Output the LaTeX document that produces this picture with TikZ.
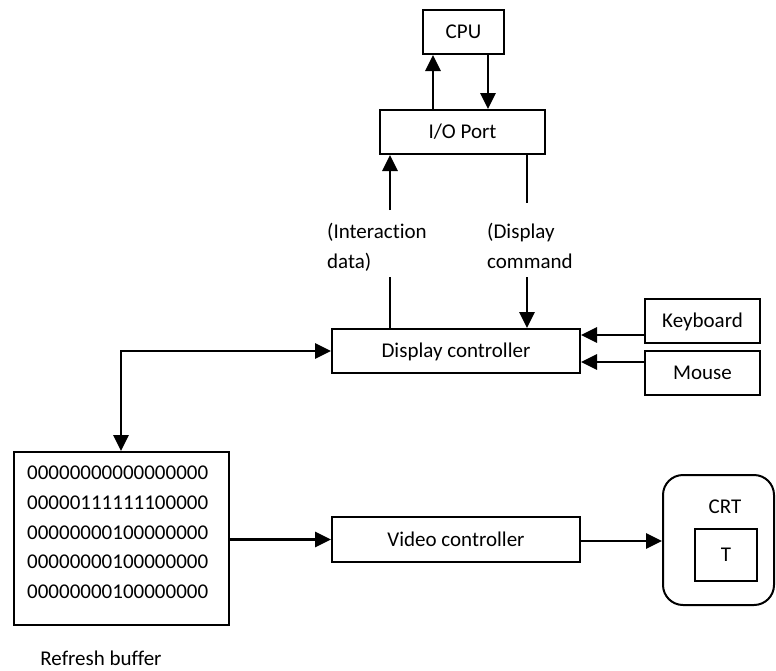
\documentclass[tikz,border=0pt]{standalone}
\usepackage{fontspec}
\setmainfont{Carlito}[Ligatures=NoCommon]
\usetikzlibrary{arrows.meta}
\begin{document}
\begin{tikzpicture}[x=1pt,y=-1pt,
  every node/.style={font=\fontsize{21}{25}\selectfont},
  box/.style={draw,line width=2pt,inner sep=0pt,text height=13pt,text depth=0pt},
  lbl/.style={inner sep=0pt,text height=13pt,text depth=0pt},
  txt/.style={inner sep=0pt,anchor=base west},
  arr/.style={line width=2.8pt,-{Triangle[length=16pt,width=15pt]}},
  arrtwo/.style={line width=2.8pt,{Triangle[length=16pt,width=15pt]}-{Triangle[length=16pt,width=15pt]}},
  plainline/.style={line width=2pt}]
\useasboundingbox (0,0) rectangle (776,670);
% boxes
\node[box,minimum width=81pt,minimum height=44pt] (cpu) at (463.5,32) {CPU};
\node[box,minimum width=165pt,minimum height=44pt] (io) at (462.5,132) {I/O Port};
\node[box,minimum width=248pt,minimum height=44pt] (dc) at (456,351) {Display controller};
\node[box,minimum width=115pt,minimum height=44pt] (kb) at (702.5,321) {Keyboard};
\node[box,minimum width=115pt,minimum height=44pt] (mouse) at (702.5,373) {Mouse};
\node[box,minimum width=215pt,minimum height=173pt] (buf) at (121.5,538.5) {};
\node[box,minimum width=248pt,minimum height=45pt] (vc) at (456,539.5) {Video controller};
\node[box,minimum width=111pt,minimum height=130pt,rounded corners=20pt] (crt) at (718.5,540) {};
\node[lbl] (crtlabel) at (725,506.5) {CRT};
\node[box,minimum width=62pt,minimum height=52pt] (tbox) at (726,555) {T};
% buffer contents
\node[txt] (r1) at (27,479) {00000000000000000};
\node[txt] (r2) at (27,509) {00000111111100000};
\node[txt] (r3) at (27,539) {00000000100000000};
\node[txt] (r4) at (27,568.5) {00000000100000000};
\node[txt] (r5) at (27,598) {00000000100000000};
\node[lbl] (rbl) at (101,659) {Refresh buffer};
% labels
\node[txt] (ia1) at (327,238) {(Interaction};
\node[txt] (ia2) at (327,268) {data)};
\node[txt] (dc1) at (487,238) {(Display};
\node[txt] (dc2) at (487,268) {command};
% coordinates
\coordinate (ia) at (390,210);
\coordinate (ib) at (390,277);
\coordinate (da) at (527,203);
\coordinate (db) at (527,277);
% connectors
\draw[arr] ([xshift=54pt]io.north west) -- ([xshift=54pt]io.north west |- cpu.south);
\draw[arr] ([xshift=66pt]cpu.south west) -- ([xshift=66pt]cpu.south west |- io.north);
\draw[arr] (ia) -- (ia |- io.south);
\draw[plainline] (ib) -- (ib |- dc.north);
\draw[plainline] (da |- io.south) -- (da);
\draw[arr] (db) -- (db |- dc.north);
\draw[arr] ([yshift=-14pt]kb.west) -- ([yshift=-14pt]kb.west -| dc.east);
\draw[arr] ([yshift=11pt]mouse.west) -- ([yshift=11pt]mouse.west -| dc.east);
\draw[arrtwo] (dc.west) -| ([xshift=108pt]buf.north west);
\draw[arr] (buf.east |- vc.west) -- (vc.west);
\draw[arr] ([yshift=-1.5pt]vc.east) -- ([yshift=-1.5pt]vc.east -| crt.west);
\end{tikzpicture}
\end{document}
